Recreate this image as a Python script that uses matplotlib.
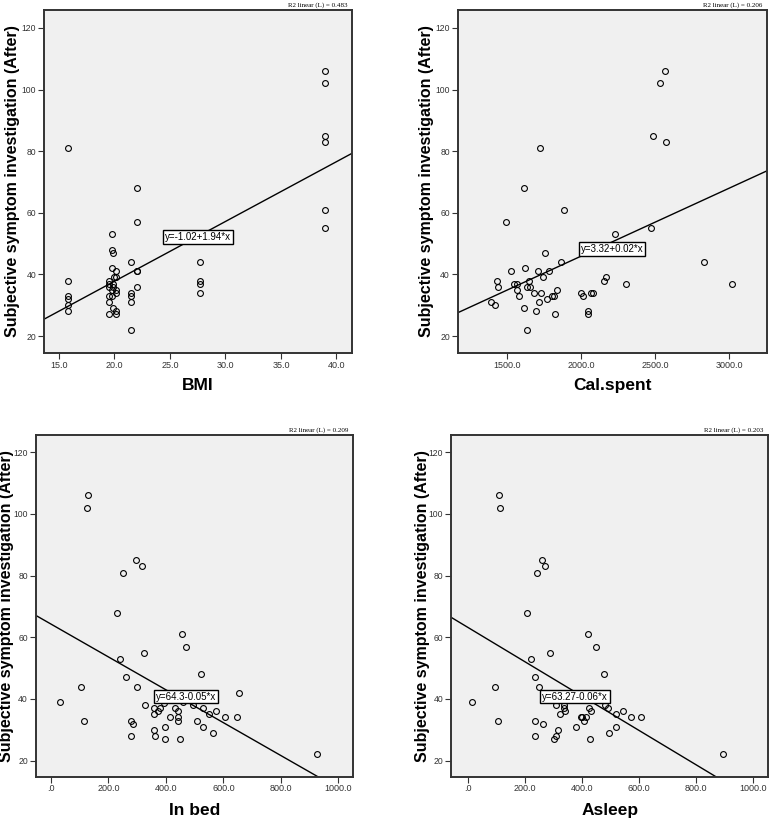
"""Scatter plots of symptom score against four predictors, with linear fits."""

import matplotlib
matplotlib.use("Agg")
import matplotlib.pyplot as plt
from matplotlib import font_manager

# --- data ------------------------------------------------------------------
bmi_x = [39.0, 39.0, 39.0, 39.0, 39.0, 39.0,
         15.8, 15.8, 15.8, 15.8, 15.8, 15.8,
         22.0, 22.0,
         19.8, 19.8, 19.9, 19.8, 20.1, 20.1,
         19.5, 19.5, 19.5, 19.8, 20.1, 20.1, 19.5, 19.5, 19.9, 20.1, 20.1, 19.5,
         19.9, 19.9, 20.0, 19.8,
         21.5, 22.0, 22.0, 22.0, 21.5, 21.5, 21.5, 21.5,
         27.7, 27.7, 27.7, 27.7]
bmi_y = [106, 102, 85, 83, 61, 55,
         81, 38, 33, 32, 30, 28,
         68, 57,
         53, 48, 47, 42, 41, 39,
         38, 37, 36, 35, 35, 34, 33, 31, 29, 28, 27, 27,
         37, 36, 39, 33,
         44, 41, 41, 36, 34, 33, 31, 22,
         44, 38, 37, 34]

cal_x = [2567, 2533, 2488, 2573, 1724, 1617, 1888, 1495, 2474, 2227,
         2010, 1758, 1866, 2832, 1621, 1527, 1711, 1785, 1742, 2171,
         2158, 1433, 1653, 1547, 1567, 2302, 3020, 1439, 1635, 1657,
         1570, 1841, 1684, 1733, 1998, 2070, 2084, 1583, 1803, 1819,
         2016, 1772, 1720, 1394, 1419, 1617, 1695, 2046, 1828, 2046,
         1635]
cal_y = [106, 102, 85, 83, 81, 68, 61, 57, 55, 53,
         48, 47, 44, 44, 42, 41, 41, 41, 39, 39,
         38, 38, 38, 37, 37, 37, 37, 36, 36, 36,
         35, 35, 34, 34, 34, 34, 34, 33, 33, 33,
         33, 32, 31, 31, 30, 29, 28, 28, 27, 27,
         22]

bed_x = [129, 125, 297, 318, 252, 230, 455, 469, 324, 239,
         523, 260, 104, 299, 653, 30, 373, 393, 329, 360,
         378, 373, 360, 433, 443, 495, 529, 574, 550, 607,
         646, 413, 441, 441, 116, 280, 284, 509, 398, 529,
         360, 565, 280, 362, 398, 450, 927, 420, 460]
bed_y = [106, 102, 85, 83, 81, 68, 61, 57, 55, 53,
         48, 47, 44, 44, 42, 39, 41, 38.6, 38, 37,
         37, 36, 35, 37, 36, 38, 37, 36, 35, 34,
         34, 34, 34, 33, 33, 33, 32, 33, 31, 31,
         30, 29, 28, 28, 27, 27, 22, 40, 39]

sleep_x = [110, 113, 259, 271, 242, 208, 421, 449, 289, 223,
           476, 237, 96, 249, 16, 464, 480, 492, 424, 337,
           336, 308, 431, 341, 545, 518, 324, 570, 605, 397,
           401, 415, 406, 237, 107, 265, 518, 379, 317, 496,
           310, 237, 302, 428, 895]
sleep_y = [106, 102, 85, 83, 81, 68, 61, 57, 55, 53,
           48, 47, 44, 44, 39, 41, 38, 37, 37, 38,
           37, 38, 36, 36, 36, 35, 35, 34, 34, 34,
           34, 34, 33, 33, 33, 32, 31, 31, 30, 29,
           28, 28, 27, 27, 22]

x_labels = ["BMI", "Cal.spent", "In bed", "Asleep"]
fit_intercepts = [-1.02, 1.7, 64.3, 63.27]
fit_slopes = [1.94, 0.0221, -0.0533, -0.0558]
fit_texts = ["y=-1.02+1.94*x", "y=3.32+0.02*x", "y=64.3-0.05*x", "y=63.27-0.06*x"]
r2_values = [0.483, 0.206, 0.209, 0.203]

x_ticks = [[15, 20, 25, 30, 35, 40],
           [1500, 2000, 2500, 3000],
           [0, 200, 400, 600, 800, 1000],
           [0, 200, 400, 600, 800, 1000]]
y_ticks = [20, 40, 60, 80, 100, 120]
y_label = "Subjective symptom investigation (After)"

# --- layout ----------------------------------------------------------------
W, H = 771, 822
# (left, top, right, bottom) in pixels
boxes_px = [(44, 10, 352, 353), (457.7, 10, 766.7, 353),
            (35.7, 435, 353.3, 776.7), (451, 435, 768.3, 776.7)]
x_limits = [(13.65, 41.4), (1170, 3252), (-53, 1052), (-58, 1052)]
y_limits = [(14.5, 125.8), (14.5, 125.8), (14.8, 125.6), (14.8, 125.6)]
eq_pos = [(27.5, 52), (2210, 48.3), (469, 40.8), (376.7, 40.8)]
ylabel_x_px = [13, 426.7, 6.5, 422.5]
xlabel_y = [-0.096, -0.096, -0.1, -0.1]

installed = {f.name for f in font_manager.fontManager.ttflist}
narrow = "Liberation Sans"
for cand in ("Liberation Sans Narrow", "DejaVu Sans Condensed"):
    if cand in installed:
        narrow = cand
        break

data = [(bmi_x, bmi_y), (cal_x, cal_y), (bed_x, bed_y), (sleep_x, sleep_y)]

fig = plt.figure(figsize=(W / 100, H / 100), dpi=100)


def tick_fmt(v):
    return ".0" if v == 0 else f"{v:.1f}"


for i, (xs, ys) in enumerate(data):
    l, t, r, b = boxes_px[i]
    ax = fig.add_axes([l / W, 1 - b / H, (r - l) / W, (b - t) / H])
    ax.set_facecolor("#f0f0f0")
    ax.plot(xs, ys, "o", ms=4.2, mfc="none", mec="black", mew=0.8, zorder=3)

    x0, x1 = x_limits[i]
    ax.plot([x0, x1],
            [fit_intercepts[i] + fit_slopes[i] * x0, fit_intercepts[i] + fit_slopes[i] * x1],
            color="black", lw=1.0, zorder=2)
    ax.set_xlim(x0, x1)
    ax.set_ylim(*y_limits[i])

    ax.text(*eq_pos[i], fit_texts[i], ha="center", va="center", fontsize=7,
            family=narrow, zorder=4,
            bbox=dict(boxstyle="square,pad=0.2", fc="white", ec="black", lw=1))
    ax.text(0.985, 1.005, f"R2 linear (L) = {r2_values[i]:.3f}", transform=ax.transAxes,
            ha="right", va="bottom", fontsize=5, family="Liberation Serif")

    ax.set_xticks(x_ticks[i])
    ax.set_xticklabels([tick_fmt(v) for v in x_ticks[i]], family=narrow, fontsize=6.5)
    ax.set_yticks(y_ticks)
    ax.set_yticklabels([str(v) for v in y_ticks], family=narrow, fontsize=6.2)
    ax.tick_params(length=4, width=0.8, pad=1.5, colors="#333333")
    for side in ("top", "right", "left", "bottom"):
        ax.spines[side].set_linewidth(1.4)
        ax.spines[side].set_color("#333333")

    ax.set_xlabel(x_labels[i], family=narrow, fontweight="bold", fontsize=12.5, va="center")
    ax.xaxis.set_label_coords(0.5, xlabel_y[i])
    ax.set_ylabel(y_label, family=narrow, fontweight="bold", fontsize=11.5, va="center")
    ax.yaxis.set_label_coords((ylabel_x_px[i] - l) / (r - l), 0.5)

fig.savefig("out.png", dpi=100)
